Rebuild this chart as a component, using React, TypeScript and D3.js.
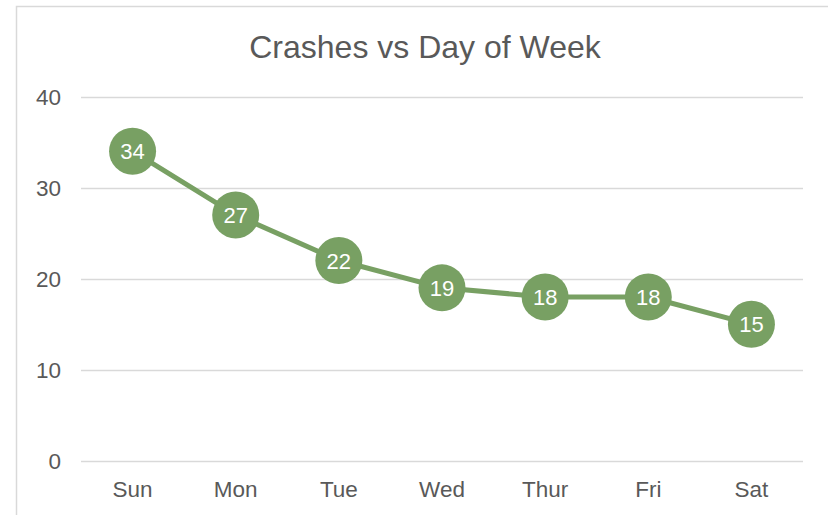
import React, { useRef, useEffect } from 'react';
import * as d3 from 'd3';

const days = ['Sun', 'Mon', 'Tue', 'Wed', 'Thur', 'Fri', 'Sat'];
const crashes = [34, 27, 22, 19, 18, 18, 15];
const yTicks = [0, 10, 20, 30, 40];

const GREEN = '#78A063';
const GREY_TEXT = '#595959';
const GRID = '#D9D9D9';

const App = () => {
  const ref = useRef<SVGSVGElement>(null);

  useEffect(() => {
    const svg = d3.select(ref.current)
      .attr('width', 828)
      .attr('height', 515);

    svg.selectAll('*').remove();

    const font = 'Liberation Sans, Arial, sans-serif';

    // chart area border (only left and top visible)
    svg.append('path')
      .attr('d', 'M16.5,520 L16.5,6.5 L830,6.5')
      .attr('fill', 'none')
      .attr('stroke', GRID)
      .attr('stroke-width', 1.5);

    // title
    svg.append('text')
      .attr('x', 425)
      .attr('y', 58)
      .attr('text-anchor', 'middle')
      .attr('font-family', font)
      .attr('font-size', 32)
      .attr('fill', GREY_TEXT)
      .text('Crashes vs Day of Week');

    const left = 81;
    const right = 803;

    const x = d3.scaleBand<string>()
      .domain(days)
      .range([left, right]);

    const y = d3.scaleLinear()
      .domain([0, 40])
      .range([461, 96.5]);

    // gridlines
    svg.append('g')
      .selectAll('line')
      .data(yTicks)
      .enter().append('line')
      .attr('x1', left)
      .attr('x2', right)
      .attr('y1', d => Math.round(y(d)) + 0.5)
      .attr('y2', d => Math.round(y(d)) + 0.5)
      .attr('stroke', GRID)
      .attr('stroke-width', 1.5);

    // y tick labels
    svg.append('g')
      .selectAll('text')
      .data(yTicks)
      .enter().append('text')
      .attr('x', 61)
      .attr('y', d => y(d) + 8)
      .attr('text-anchor', 'end')
      .attr('font-family', font)
      .attr('font-size', 22.5)
      .attr('fill', GREY_TEXT)
      .text(d => d);

    // x tick labels
    svg.append('g')
      .selectAll('text')
      .data(days)
      .enter().append('text')
      .attr('x', d => x(d)! + x.bandwidth() / 2)
      .attr('y', 497)
      .attr('text-anchor', 'middle')
      .attr('font-family', font)
      .attr('font-size', 22.5)
      .attr('fill', GREY_TEXT)
      .text(d => d);

    const pts = days.map((d, i) => ({ day: d, value: crashes[i] }));

    const line = d3.line<{ day: string; value: number }>()
      .x(d => x(d.day)! + x.bandwidth() / 2)
      .y(d => y(d.value));

    svg.append('path')
      .datum(pts)
      .attr('d', line)
      .attr('fill', 'none')
      .attr('stroke', GREEN)
      .attr('stroke-width', 5)
      .attr('stroke-linejoin', 'round');

    const marks = svg.append('g')
      .selectAll('g')
      .data(pts)
      .enter().append('g')
      .attr('transform', d => `translate(${x(d.day)! + x.bandwidth() / 2},${y(d.value)})`);

    marks.append('circle')
      .attr('r', 23.5)
      .attr('fill', GREEN);

    marks.append('text')
      .attr('y', 8)
      .attr('text-anchor', 'middle')
      .attr('font-family', font)
      .attr('font-size', 22)
      .attr('fill', '#FFFFFF')
      .text(d => d.value);
  }, []);

  return (
    <svg ref={ref} style={{ position: 'absolute', left: 0, top: 0, background: '#fff' }}></svg>
  );
};

export default App;
